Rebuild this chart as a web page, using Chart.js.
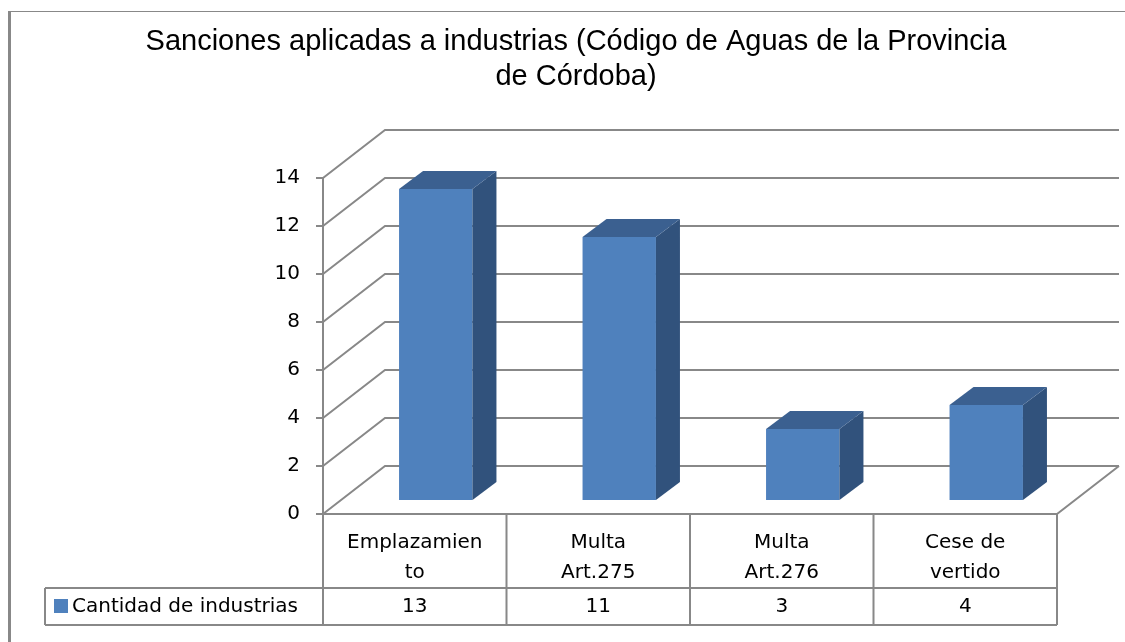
<!DOCTYPE html>
<html>
<head>
<meta charset="utf-8">
<script src="https://cdn.jsdelivr.net/npm/chart.js@4.4.1/dist/chart.umd.min.js"></script>
<style>
html, body { margin: 0; padding: 0; background: #fff; }
canvas { display: block; }
</style>
</head>
<body>
<canvas id="barChart" width="1125" height="642"></canvas>
<script>
// datos
const categories = [['Emplazamien', 'to'], ['Multa', 'Art.275'], ['Multa', 'Art.276'], ['Cese de', 'vertido']];
const cantidad = [13, 11, 3, 4];
const yTicks = [0, 2, 4, 6, 8, 10, 12, 14];
const seriesName = 'Cantidad de industrias';
const titleLines = ['Sanciones aplicadas a industrias (Código de Aguas de la Provincia', 'de Córdoba)'];

const gridColor = '#888888';
const frontColor = '#4f81bd';
const sideColor = '#31527c';
const topColor = '#3b6090';
const tableFont = '20px "DejaVu Sans"';

const depth = { dx: 62, dy: -48 };     // fondo del cubo
const barShift = { dx: 21, dy: -13 };  // plano de las barras
const barDepth = { dx: 24, dy: -18 };  // grosor de cada barra

const marco3d = {
    id: 'marco3d',
    beforeDatasetsDraw(chart) {
        const ctx = chart.ctx;
        const yScale = chart.scales.y;
        const { left, right, bottom } = chart.chartArea;

        ctx.save();
        ctx.strokeStyle = gridColor;
        ctx.lineWidth = 2;
        yTicks.forEach(v => {
            const py = yScale.getPixelForValue(v);
            ctx.beginPath();
            ctx.moveTo(left, py);
            ctx.lineTo(left + depth.dx, py + depth.dy);
            ctx.lineTo(right + depth.dx, py + depth.dy);
            ctx.stroke();
        });
        // suelo
        ctx.beginPath();
        ctx.moveTo(left, bottom);
        ctx.lineTo(right, bottom);
        ctx.lineTo(right + depth.dx, bottom + depth.dy);
        ctx.stroke();
        ctx.restore();

        // las barras se dibujan desplazadas hacia el fondo
        ctx.save();
        ctx.translate(barShift.dx, barShift.dy);
    },
    afterDatasetsDraw(chart) {
        const ctx = chart.ctx;
        chart.getDatasetMeta(0).data.forEach(bar => {
            const { x, y, base, width } = bar.getProps(['x', 'y', 'base', 'width'], true);
            const l = x - width / 2;
            const r = x + width / 2;

            ctx.fillStyle = sideColor;
            ctx.beginPath();
            ctx.moveTo(r, y);
            ctx.lineTo(r + barDepth.dx, y + barDepth.dy);
            ctx.lineTo(r + barDepth.dx, base + barDepth.dy);
            ctx.lineTo(r, base);
            ctx.closePath();
            ctx.fill();

            ctx.fillStyle = topColor;
            ctx.beginPath();
            ctx.moveTo(l, y);
            ctx.lineTo(l + barDepth.dx, y + barDepth.dy);
            ctx.lineTo(r + barDepth.dx, y + barDepth.dy);
            ctx.lineTo(r, y);
            ctx.closePath();
            ctx.fill();
        });
        ctx.restore();
    },
    afterDraw(chart) {
        const ctx = chart.ctx;
        const xScale = chart.scales.x;
        const { left, right, bottom } = chart.chartArea;
        const n = cantidad.length;

        const bounds = [left];
        for (let i = 1; i < n; i++) {
            bounds.push((xScale.getPixelForValue(i - 1) + xScale.getPixelForValue(i)) / 2);
        }
        bounds.push(right);

        const rowMid = 588;
        const rowEnd = 625;
        const legendLeft = 45;

        ctx.save();
        ctx.strokeStyle = gridColor;
        ctx.lineWidth = 2;
        ctx.beginPath();
        bounds.forEach(bx => {
            ctx.moveTo(bx, bottom);
            ctx.lineTo(bx, rowEnd);
        });
        ctx.moveTo(legendLeft, rowMid);
        ctx.lineTo(right, rowMid);
        ctx.moveTo(legendLeft, rowEnd);
        ctx.lineTo(right, rowEnd);
        ctx.moveTo(legendLeft, rowMid);
        ctx.lineTo(legendLeft, rowEnd);
        ctx.stroke();

        ctx.fillStyle = '#000';
        ctx.font = tableFont;
        ctx.textAlign = 'center';
        ctx.textBaseline = 'middle';
        for (let i = 0; i < n; i++) {
            const cx = (bounds[i] + bounds[i + 1]) / 2;
            categories[i].forEach((line, k) => {
                ctx.fillText(line, cx, 543 + k * 30);
            });
            ctx.fillText(String(cantidad[i]), cx, 607);
        }

        ctx.fillStyle = frontColor;
        ctx.fillRect(54, 599, 14, 14);
        ctx.fillStyle = '#000';
        ctx.textAlign = 'left';
        ctx.fillText(seriesName, 72, 607);

        // marco exterior
        ctx.fillStyle = gridColor;
        ctx.fillRect(8, 11, 3, 631);
        ctx.fillRect(8, 11, 1117, 1);
        ctx.restore();
    }
};

new Chart(document.getElementById('barChart'), {
    type: 'bar',
    data: {
        labels: categories,
        datasets: [{
            label: seriesName,
            data: cantidad,
            backgroundColor: frontColor,
            borderWidth: 0,
            barPercentage: 0.4,
            categoryPercentage: 1.0,
            clip: false
        }]
    },
    options: {
        responsive: false,
        animation: false,
        layout: { padding: { left: 95, right: 68, top: 0, bottom: 128 } },
        plugins: {
            legend: { display: false },
            tooltip: { enabled: false },
            title: {
                display: true,
                text: titleLines,
                color: '#000',
                font: { family: 'Liberation Sans', size: 29, weight: 'normal', lineHeight: 1.2 },
                padding: { top: 25, bottom: 83.4 }
            }
        },
        scales: {
            x: { display: false, offset: true },
            y: {
                min: 0,
                max: 14,
                afterFit: s => { s.width = 228; },
                ticks: { stepSize: 2, color: '#000', padding: 16, font: { family: 'DejaVu Sans', size: 20 } },
                grid: { drawOnChartArea: false, drawTicks: true, tickLength: 7, color: gridColor, lineWidth: 2 },
                border: { display: true, color: gridColor, width: 2 }
            }
        }
    },
    plugins: [marco3d]
});
</script>
</body>
</html>
